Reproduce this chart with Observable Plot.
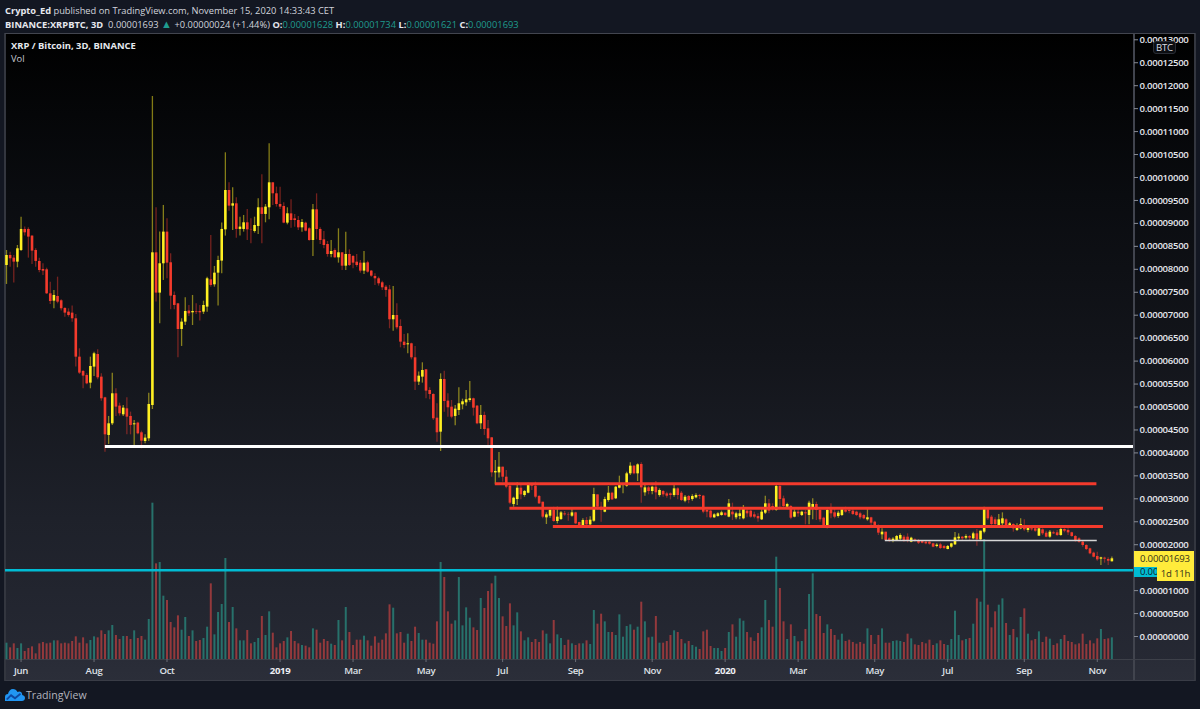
<!DOCTYPE html>
<html>
<head>
<meta charset="utf-8">
<script src="https://cdn.jsdelivr.net/npm/d3@7"></script>
<script src="https://cdn.jsdelivr.net/npm/@observablehq/plot@0.6"></script>
<style>
html,body{margin:0;padding:0;background:#131722;}
#page{position:relative;width:1200px;height:709px;overflow:hidden;background:#131722;font-family:"Open Sans",sans-serif;color:#d1d4dc;}
#head{position:absolute;left:5px;top:4px;font-size:9.3px;line-height:14px;white-space:nowrap;}
#head b{font-weight:700;color:#e6e8ee;}
#head .t{color:#1f9c8f;}
#head .tri{color:#1f9c8f;font-size:11px;line-height:10px;}
#chart{position:absolute;left:0;top:33px;}
.ov{position:absolute;white-space:nowrap;}
.box{position:absolute;font-size:9.6px;text-align:left;box-sizing:border-box;white-space:nowrap;letter-spacing:-0.2px;}
</style>
</head>
<body>
<div id="page">
<div id="head">
<div><b>Crypto_Ed</b> published on TradingView.com, November 15, 2020 14:33:43 CET</div>
<div style="letter-spacing:0.03px;"><b>BINANCE:XRPBTC, 3D</b>&nbsp; 0.00001693 <span class="tri">▲</span> +0.00000024 (+1.44%) <b>O:</b><span class="t">0.00001628</span> <b>H:</b><span class="t">0.00001734</span> <b>L:</b><span class="t">0.00001621</span> <b>C:</b><span class="t">0.00001693</span></div>
</div>
<div id="chart"></div>
<div class="ov" style="left:11px;top:39px;font-size:9.4px;font-weight:700;color:#e6e8ee;">XRP / Bitcoin, 3D, BINANCE</div>
<div class="ov" style="left:11px;top:52px;font-size:9.4px;color:#c4c7cf;">Vol</div>
<div class="box" style="left:1153px;top:41px;width:23px;height:13px;background:#0c0e12;border:1px solid #2a2d35;border-radius:3px;color:#d8dbe2;text-align:center;line-height:11px;">BTC</div>
<div class="box" style="left:1134px;top:566px;width:23px;height:11px;background:#00bcd4;color:#10222a;padding-left:6px;line-height:11px;">0.00</div>
<div class="box" style="left:1134px;top:551px;width:60px;height:16px;background:#ffeb3b;color:#33321a;padding-left:6px;line-height:16px;">0.00001693</div>
<div class="box" style="left:1157px;top:567px;width:37px;height:14px;background:#ffeb3b;color:#33321a;text-align:center;line-height:14px;">1d 11h</div>
<svg class="ov" style="left:5px;top:687px;" width="20" height="15" viewBox="0 0 20 15"><path d="M0 14 L0 10 C0 8 1 7 3 7 C3.5 4 5.5 2 8 2 C10 2 11.5 3 12.5 5 C13.5 4.3 15 4.3 16 5 C17 6 17.3 7 17.2 8 C19 8.3 20 9.5 20 11 C20 13 18.5 14 17 14 Z" fill="#2196f3"/><path d="M1 12 L6 7 L10 10 L15 6 L16 7.5 L10 12.5 L6 9.5 L2.5 13 Z" fill="#0d47a1"/></svg>
<div class="ov" style="left:26px;top:688px;font-size:10.6px;color:#b2b5be;">TradingView</div>
</div>
<script>
const highs = [
8410,8374,8301,8519,9136,8919,8904,8730,8447,8243,
8120,8025,7720,7539,7829,7335,7161,7140,7198,7016,
6268,5796,5723,6086,6195,6246,5723,5215,4794,5738,
5397,5084,5033,5200,4888,4707,4670,4474,4394,5302,
11765,9340,8810,9391,9100,8338,7503,7248,6922,7379,
7212,7430,7248,7212,7306,7829,8737,8062,8287,9006,
10538,9884,9775,9558,9136,9173,9303,9100,9136,9536,
10059,9412,10734,9884,9790,9790,9449,9340,9513,9194,
9150,9085,9027,8903,9412,9644,8903,8823,8606,8627,
8446,8882,8359,8809,8424,8301,8322,8192,8388,8178,
7974,7902,7829,7742,7648,7648,7626,7248,6900,6580,
6595,6391,6319,5760,5963,5818,5418,5287,5070,5723,
5781,5287,5142,5033,5418,5171,5360,5556,5193,5033,
5033,4888,4707,4329,3834,4008,3689,3616,3289,3035,
3348,3289,3181,3340,3326,3362,3072,2926,2694,2781,
2817,2817,2723,2723,2694,2767,2708,2491,2563,2592,
2607,3231,3086,2926,3035,3268,3144,3268,3493,3326,
3580,3783,3725,3761,3783,3289,3268,3275,3377,3217,
3181,3144,3130,3304,3239,3159,3072,3072,3086,3108,
3093,3072,2760,2745,2673,2695,2731,2695,2985,2905,
2709,2782,2854,2760,2745,2709,2673,2760,3058,2985,
2891,3305,3305,3058,2905,2854,2760,2760,2731,2745,
2949,3000,2927,2760,2600,2804,2891,2782,2731,2782,
2818,2782,2760,2731,2709,2658,2804,2600,2513,2433,
2346,2273,2150,2150,2201,2237,2201,2237,2164,2128,
2113,2092,2077,2092,2033,2019,2033,1983,1983,2033,
2266,2237,2179,2215,2200,2273,2331,2295,2818,2781,
2636,2585,2658,2694,2564,2484,2455,2455,2564,2542,
2397,2382,2368,2382,2346,2295,2309,2295,2309,2368,
2346,2346,2273,2200,2150,2077,1997,1925,1837,1837,
1728,1728,1714,1734];
const opens = [
8083,8301,8243,8156,8410,8868,8868,8723,8410,8171,
7996,7989,7466,7306,7408,7314,7147,7067,7045,6922,
6086,5774,5687,5520,5869,6144,5651,5200,4380,4634,
5288,5019,4830,4961,4794,4612,4649,4438,4249,4307,
5033,8359,7481,8120,8810,8142,7430,7248,6689,6849,
7089,7052,7081,7081,7067,7176,7771,7662,7916,8178,
8860,9717,9376,9427,8868,8868,9013,8868,8824,8933,
9340,9195,9340,9884,9645,9412,9369,9006,9208,9099,
9063,8903,9005,8882,8627,9296,8867,8642,8540,8322,
8410,8250,8359,8068,8322,8279,8155,8134,7960,8141,
7960,7844,7793,7706,7611,7553,6900,6994,6754,6413,
6355,6377,6072,5542,5651,5810,5360,5273,4757,4452,
5600,5128,4997,4794,4924,5048,5091,5142,5179,5019,
4634,4816,4525,4329,3565,3565,3689,3471,3275,2875,
2984,3231,3072,3122,3289,3275,3050,2926,2585,2621,
2745,2505,2549,2672,2658,2621,2694,2483,2418,2527,
2432,2512,3086,2817,2708,2963,3122,3000,3231,3289,
3275,3544,3711,3544,3747,3130,3239,3159,3253,3072,
3159,3108,3108,3072,3217,3122,2948,3050,2984,3021,
3072,3058,2745,2731,2586,2615,2636,2687,2600,2709,
2586,2615,2564,2731,2731,2651,2615,2542,2687,2891,
2833,2745,3268,2999,2818,2833,2600,2709,2636,2695,
2636,2782,2876,2745,2578,2368,2760,2695,2615,2636,
2745,2745,2731,2709,2673,2636,2542,2586,2491,2419,
2215,2273,2128,2092,2092,2121,2164,2164,2055,2106,
2092,2070,2055,2055,2019,1961,1997,1961,1895,1946,
1997,2128,2164,2142,2179,2128,2237,2106,2273,2760,
2600,2542,2404,2455,2542,2397,2440,2309,2346,2397,
2309,2346,2346,2186,2324,2251,2164,2259,2259,2200,
2331,2309,2259,2179,2128,2055,1983,1910,1816,1743,
1685,1707,1678,1628];
const closes = [
8301,8229,8156,8447,8868,8795,8701,8396,8171,7974,
7960,7466,7299,7430,7285,7140,7045,6994,6922,6086,
5738,5673,5505,5883,6159,5636,5179,4394,4634,5288,
4997,4852,4975,4779,4598,4634,4416,4256,4322,5055,
8359,7481,8120,8810,8134,7415,7212,6689,6849,7081,
7030,7081,7067,7052,7212,7793,7648,7916,8192,8868,
9717,9376,9427,8868,8919,9013,8860,8860,8955,9340,
9195,9354,9884,9645,9412,9354,9006,9209,9063,9063,
8903,9020,8831,8627,9296,8867,8627,8518,8322,8388,
8250,8359,8068,8322,8083,8134,8083,7960,8134,7938,
7851,7793,7684,7597,7539,6900,6994,6725,6413,6340,
6377,6072,5542,5672,5796,5346,5273,4743,4438,5600,
5120,4983,4779,4953,5070,5113,5157,5179,4975,4634,
4816,4510,4307,3566,3594,3689,3471,3253,2905,3013,
3231,3086,3159,3289,3275,3035,2890,2600,2650,2745,
2505,2600,2694,2650,2650,2694,2454,2418,2527,2432,
2534,3093,2817,2745,2984,3122,2977,3253,3289,3304,
3544,3711,3544,3740,3239,3239,3159,3253,3130,3181,
3086,3057,3072,3217,3072,2963,3035,2963,3050,3072,
3050,2709,2709,2586,2651,2673,2695,2636,2891,2651,
2673,2673,2782,2673,2600,2600,2564,2709,2891,2731,
2760,3268,2985,2833,2876,2578,2709,2673,2709,2673,
2905,2876,2745,2542,2382,2745,2673,2600,2687,2760,
2709,2724,2658,2636,2586,2564,2586,2469,2419,2252,
2273,2092,2092,2121,2179,2201,2092,2092,2142,2092,
2033,2033,2019,2012,1946,1990,1917,1917,1961,2019,
2150,2164,2128,2179,2142,2237,2106,2295,2789,2564,
2440,2440,2542,2564,2418,2455,2346,2418,2440,2324,
2368,2324,2295,2346,2237,2164,2273,2237,2200,2331,
2295,2259,2179,2092,2055,1983,1895,1801,1728,1670,
1714,1685,1641,1693];
const lows = [
7670,8047,7699,8033,8388,8723,8243,8105,8047,7924,
7866,7452,7234,7140,7248,7089,6958,6958,6849,5869,
5709,5397,5484,5397,5665,5593,5128,4017,4184,4598,
4794,4801,4794,4394,4394,4126,4394,4089,4198,4249,
4946,7285,6813,7757,7793,7118,7118,6072,6319,6776,
6972,6776,7016,6871,7016,7067,7611,7611,7198,7902,
8723,9267,8846,8679,8723,8810,8628,8555,8788,8759,
8555,9013,9078,9391,9354,9303,8991,8969,8896,8918,
8845,8809,8816,8613,8279,8642,8540,8446,8264,8250,
8243,8134,7974,7974,8061,8010,8046,7916,7887,7916,
7829,7648,7633,7539,7393,6704,6653,6682,6290,6268,
6159,6028,5360,5469,5520,5179,5157,4707,4234,4031,
4888,4779,4743,4590,4816,4939,5019,5106,4801,4612,
4510,4380,4111,3472,3304,3456,3362,3217,2868,2817,
2854,2977,3035,3108,3181,3000,2875,2563,2440,2578,
2491,2454,2527,2621,2512,2600,2440,2396,2396,2418,
2418,2491,2745,2491,2694,2926,2963,2984,3217,3108,
3253,3507,3522,3377,2905,3057,3086,3086,2977,3035,
3035,3013,2977,3035,2977,2941,2912,2890,2948,3000,
2984,2673,2586,2564,2571,2600,2622,2615,2586,2528,
2542,2542,2542,2586,2578,2564,2491,2528,2658,2673,
2731,2731,2782,2782,2789,2542,2586,2600,2615,2433,
2433,2542,2528,2491,2361,2346,2564,2564,2578,2615,
2687,2673,2636,2615,2542,2542,2513,2419,2382,2201,
2106,2070,2056,2041,2077,2092,2056,2041,2041,2055,
2004,2019,1997,1990,1932,1932,1895,1888,1888,1925,
1983,2092,2077,2106,2077,2106,1968,2077,2237,2527,
2418,2397,2397,2418,2397,2382,2273,2288,2324,2295,
2259,2295,2273,2179,2200,2150,2142,2222,2179,2186,
2259,2200,2164,2055,2033,1946,1874,1779,1714,1641,
1547,1598,1547,1621];
const volumes = [
49,35,47,33,47,24,33,38,17,47,
51,47,49,56,56,47,49,47,54,68,
49,65,47,57,68,65,86,75,86,102,
72,60,69,69,60,86,63,69,58,120,
469,287,291,190,177,111,95,131,88,126,
69,86,54,57,63,97,227,74,141,165,
303,111,156,92,56,56,87,47,51,63,
129,72,143,79,35,47,54,65,84,54,
47,42,40,35,92,88,49,60,54,46,
42,117,56,156,81,42,58,58,70,56,
40,68,49,58,77,164,154,77,81,49,
76,54,97,78,58,58,49,46,113,291,
246,143,106,116,246,101,155,124,95,87,
183,153,204,227,250,183,128,99,167,101,
140,83,56,65,51,60,51,86,76,47,
117,74,63,42,58,47,42,47,47,56,
45,147,106,136,113,81,81,72,134,67,
99,104,88,97,172,113,65,67,129,49,
49,54,72,86,81,60,47,54,42,37,
30,83,88,39,33,33,24,33,81,104,
67,122,115,81,65,54,78,95,177,117,
97,307,213,113,60,104,69,53,54,90,
195,257,135,129,78,104,90,72,58,76,
54,58,51,46,51,46,92,72,45,72,
92,49,49,54,56,54,51,76,62,44,
42,51,47,58,42,47,56,45,42,60,
145,72,56,60,63,106,182,172,360,163,
95,143,163,182,108,72,90,65,126,152,
76,56,60,83,51,67,61,42,47,60,
72,54,51,44,47,76,45,56,47,62,
90,60,62,65];
const volumeDirs = (
"TRRTTRRRRR"+"RRRTRRRRRR"+"RRRTTRRRTT"+"RRTRRTRRTT"+"TRTTRRRRTT"+
"RTRRTTRTTT"+"TRTRTTRRTT"+"RTTRRRRTRR"+"RTRRTRRRRT"+"RTRTRRRRTR"+
"RRRRRRTRRR"+"TRRTTRRRRT"+"RRRTTTTTRR"+"TRRRTTRRRT"+"TRTTRRRRTT"+
"RTTRRTRRTR"+"TTRRTTRTTT"+"TTRTRTRTRT"+"RRRTRRTRTT"+"RRRRTTTRTR"+
"TTTRRRRTTR"+"RTRRTRTRTR"+"TTRRRTRRTT"+"RRRRRRTRRR"+"TRRTTTRRTR"+
"RRRRRTRRTT"+"TTRTRTRTTR"+"RRTTRTRTTR"+"TRRTRRTRRT"+"RRRRRRRRRR"+"TRRT");

const tickIdx = [4,24,44,95,115,136,156,177,217,238,258,279,299];
const tickNames = ["Jun","Aug","Oct","Mar","May","Jul","Sep","Nov","Mar","May","Jul","Sep","Nov"];
const yearIdx = [75,197];
const yearNames = ["2019","2020"];
// the 0.00001500 label sits under the price tags in the reference
const priceTicks = d3.range(0,13001,500).filter(d=>d!==1500);

const lastIdx = 308.93;
const whiteLevel = 4139, whiteFrom = 27.1;
const redLevels = [3326,2795,2397];
const redFrom = [134,138,149.9];
const redTo = [298.9,300.7,300.7];
const greyLevel = 2092, greyFrom = 240.9, greyTo = 299;
const cyanLevel = 1445;
// volume pane shares the panel: baseline and scale of its own overlay axis
const volBase = -501, volK = 7.262;

const candles = highs.map((h,i)=>({i,h,l:lows[i],o:opens[i],c:closes[i],up:closes[i]>=opens[i]}));
const upC = candles.filter(d=>d.up), dnC = candles.filter(d=>!d.up);
const vols = volumes.map((v,i)=>({i,v,y2:volBase+v*volK,t:volumeDirs[i]==="T"}));

const YEL="#fff022", RED="#f43a2c", TEAL="#27716b", VRED="#94393c";

const bg = [
 "linear-gradient(#42454f,#42454f) 5px 0/1190px 1px no-repeat",
 "linear-gradient(#393c46,#393c46) 5px 647px/1190px 2px no-repeat",
 "linear-gradient(#3d4049,#3d4049) 5px 626px/1190px 1px no-repeat",
 "linear-gradient(#41444e,#41444e) 1133px 0/2px 648px no-repeat",
 "linear-gradient(#33363f,#33363f) 4px 0/2px 648px no-repeat",
 "linear-gradient(#33363f,#33363f) 1194px 0/2px 648px no-repeat",
 "linear-gradient(#292c37,#2b2e39) 5px 626px/1190px 22px no-repeat",
 "linear-gradient(#000 0%,#0a0c10 25%,#13151b 50%,#1e212a 75%,#272a35 100%) 5px 0/1190px 648px no-repeat",
 "#131722"].join(",");

const fig = Plot.plot({
  width:1200,height:648,marginLeft:5,marginRight:67,marginTop:0,marginBottom:22,
  style:{background:bg,fontFamily:"'Open Sans',sans-serif",fontSize:"9.6px",letterSpacing:"-0.3px",overflow:"visible"},
  x:{type:"linear",domain:[-0.27,lastIdx]},
  y:{type:"linear",domain:[-980,13137],range:[648,0]},
  marks:[
    Plot.ruleX(vols.filter(d=>d.t),{x:"i",y1:volBase,y2:"y2",stroke:TEAL,strokeWidth:2}),
    Plot.ruleX(vols.filter(d=>!d.t),{x:"i",y1:volBase,y2:"y2",stroke:VRED,strokeWidth:2}),
    Plot.ruleX(upC,{x:"i",y1:"l",y2:"h",stroke:YEL,strokeOpacity:0.5,strokeWidth:1.3}),
    Plot.ruleX(dnC,{x:"i",y1:"l",y2:"h",stroke:RED,strokeOpacity:0.45,strokeWidth:1.3}),
    Plot.ruleX(upC,{x:"i",y1:"o",y2:"c",stroke:YEL,strokeWidth:2.6}),
    Plot.ruleX(dnC,{x:"i",y1:"o",y2:"c",stroke:RED,strokeWidth:2.6}),
    Plot.ruleY([whiteLevel],{x1:whiteFrom,x2:lastIdx,stroke:"#ffffff",strokeWidth:3}),
    ...redLevels.map((l,k)=>Plot.ruleY([l],{x1:redFrom[k],x2:redTo[k],stroke:RED,strokeWidth:3})),
    Plot.ruleY([greyLevel],{x1:greyFrom,x2:greyTo,stroke:"#d6d6d6",strokeWidth:1.7}),
    Plot.ruleY([cyanLevel],{x1:-0.27,x2:lastIdx,stroke:"#00bcd4",strokeWidth:2.4}),
    Plot.axisY(priceTicks,{anchor:"right",tickSize:4,tickPadding:2,stroke:"#8a8d96",fill:"#e4e6ec",fontWeight:600,label:null,tickFormat:d=>(d/1e8).toFixed(8)}),
    Plot.axisX(tickIdx,{anchor:"bottom",tickSize:3,tickPadding:5,stroke:"#6a6d76",fill:"#dfe1e7",fontWeight:600,label:null,tickFormat:(d)=>tickNames[tickIdx.indexOf(d)]}),
    Plot.axisX(yearIdx,{anchor:"bottom",tickSize:3,tickPadding:5,stroke:"#6a6d76",fill:"#eceef3",fontWeight:700,label:null,tickFormat:(d)=>yearNames[yearIdx.indexOf(d)]})
  ]
});
document.getElementById("chart").appendChild(fig);
</script>
</body>
</html>
